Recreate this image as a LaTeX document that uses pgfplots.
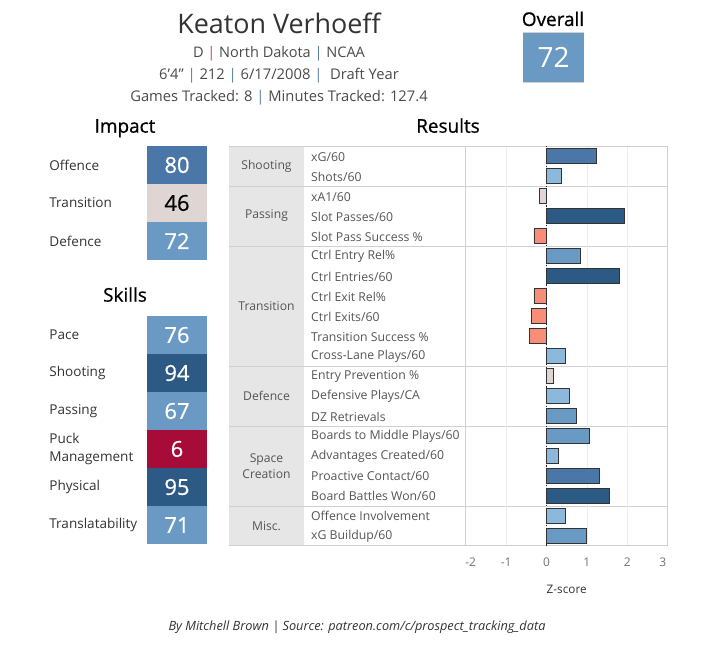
\documentclass[border=0pt]{standalone}
\usepackage{pgfplots}
\pgfplotsset{compat=1.18}
\usepackage{fontspec}
\setmainfont{Open Sans}
\newfontfamily\headfont[FakeBold=0.7]{Open Sans}

\definecolor{tdark}{HTML}{2C5A85}
\definecolor{tmdark}{HTML}{4A76A8}
\definecolor{tmed}{HTML}{6A9AC4}
\definecolor{tlight}{HTML}{8DB8DC}
\definecolor{tneutral}{HTML}{DFD6D3}
\definecolor{tsalmon}{HTML}{F88E78}
\definecolor{tred}{HTML}{A60C37}
\definecolor{cellgrey}{HTML}{E6E6E6}
\definecolor{rulec}{HTML}{D0D0D0}
\definecolor{gridc}{HTML}{ECECEC}
\definecolor{txt}{HTML}{555555}
\definecolor{stxt}{HTML}{4A4A4A}
\definecolor{dtxt}{HTML}{333333}
\definecolor{barline}{HTML}{333333}
\definecolor{pipeblue}{HTML}{5A7FA8}
\definecolor{pipered}{HTML}{D0463E}

\pgfplotsset{
  tiles/.style={
    scale only axis, hide axis, clip=false,
    xmin=0, xmax=1, y dir=reverse,
    xbar, bar shift=0pt, bar width=1,
  },
}
\tikzset{
  tilenum/.style={font=\headfont\fontsize{22}{24}\selectfont},
  rowlab/.style={anchor=west, text=dtxt, font=\fontsize{13.6}{19}\selectfont, align=left, inner sep=0pt},
  sechead/.style={anchor=base, font=\headfont\fontsize{19}{22}\selectfont},
}

\begin{document}
\begin{tikzpicture}
\useasboundingbox (0bp,0bp) rectangle (709bp,650bp);

% layout helpers: x to the right, y downward from the top edge, in bp
\begin{scope}[x=1bp, y=-1bp, shift={(0bp,650bp)}]
  % header
  \node[anchor=base, text=dtxt, font=\fontsize{27}{30}\selectfont] at (279,33.3) {Keaton Verhoeff};
  \node[anchor=base, text=stxt, font=\fontsize{14.6}{17}\selectfont] at (279,57.3)
    {D {\color{pipered}|} North Dakota {\color{pipeblue}|} NCAA};
  \node[anchor=base, text=stxt, font=\fontsize{14.8}{17}\selectfont] at (279,80)
    {6’4” {\color{pipeblue}|} 212 {\color{pipeblue}|} 6/17/2008 {\color{pipeblue}|}\ \ Draft Year};
  \node[anchor=base, text=stxt, font=\fontsize{14.8}{17}\selectfont] at (279,101.7)
    {Games Tracked: 8 {\color{pipeblue}|} Minutes Tracked: 127.4};
  \node[sechead] at (553,26) {Overall};
  \draw[rulec, line width=0.8bp] (523,32.7) -- (584,32.7);
  \draw[rulec, line width=0.8bp] (523,82.3) -- (584,82.3);

  % section titles
  \node[sechead] at (125,132.7) {Impact};
  \node[sechead] at (125,301.7) {Skills};
  \node[sechead] at (448,132.7) {Results};

  % results table: group cells and rules
  \fill[cellgrey] (229,146) rectangle (304,545.5);
  \foreach \yy in {186,246,366,426,506}
    \draw[rulec, line width=0.9bp] (229,\yy) -- (667.7,\yy);
  \draw[rulec, line width=0.9bp] (229,146) -- (667.7,146);
  \draw[rulec, line width=0.9bp] (229,545.5) -- (667.7,545.5);
  \begin{scope}[every node/.style={text=txt, font=\fontsize{12.2}{16}\selectfont, align=center}]
    \node at (266.5,166) {Shooting};
    \node at (266.5,216) {Passing};
    \node at (266.5,306) {Transition};
    \node at (266.5,396) {Defence};
    \node at (266.5,466) {Space\\Creation};
    \node at (266.5,526) {Misc.};
  \end{scope}

  % footer
  \node[anchor=base, text=dtxt, font=\fontsize{12.8}{15}\selectfont\itshape] at (357,631)
    {By Mitchell Brown | Source: patreon.com/c/prospect\_tracking\_data};
\end{scope}

% overall rating tile
\begin{axis}[tiles, at={(523bp,617.3bp)}, anchor=north west,
  width=61bp, height=49.6bp, ymin=0.5, ymax=1.5]
  \addplot[fill=tmed, draw=none] coordinates {(1,1)};
  \node[text=white, font=\fontsize{28}{30}\selectfont] at (axis cs:0.5,1) {72};
\end{axis}

% impact tiles
\begin{axis}[tiles, at={(147bp,504bp)}, anchor=north west,
  width=60bp, height=114bp, ymin=0.5, ymax=3.5]
  \addplot[fill=tmdark, draw=none] coordinates {(1,1)};
  \addplot[fill=tneutral, draw=none] coordinates {(1,2)};
  \addplot[fill=tmed, draw=none] coordinates {(1,3)};
  \node[tilenum, text=white] at (axis cs:0.5,1) {80};
  \node[tilenum, text=black] at (axis cs:0.5,2) {46};
  \node[tilenum, text=white] at (axis cs:0.5,3) {72};
  \node[rowlab] at (axis cs:-1.63,1) {Offence};
  \node[rowlab] at (axis cs:-1.63,2) {Transition};
  \node[rowlab] at (axis cs:-1.63,3) {Defence};
\end{axis}

% skills tiles
\begin{axis}[tiles, at={(147bp,334bp)}, anchor=north west,
  width=60bp, height=228bp, ymin=0.5, ymax=6.5]
  \addplot[fill=tmed, draw=none] coordinates {(1,1)};
  \addplot[fill=tdark, draw=none] coordinates {(1,2)};
  \addplot[fill=tmed, draw=none] coordinates {(1,3)};
  \addplot[fill=tred, draw=none] coordinates {(1,4)};
  \addplot[fill=tdark, draw=none] coordinates {(1,5)};
  \addplot[fill=tmed, draw=none] coordinates {(1,6)};
  \node[tilenum, text=white] at (axis cs:0.5,1) {76};
  \node[tilenum, text=white] at (axis cs:0.5,2) {94};
  \node[tilenum, text=white] at (axis cs:0.5,3) {67};
  \node[tilenum, text=white] at (axis cs:0.5,4) {6};
  \node[tilenum, text=white] at (axis cs:0.5,5) {95};
  \node[tilenum, text=white] at (axis cs:0.5,6) {71};
  \node[rowlab] at (axis cs:-1.63,1) {Pace};
  \node[rowlab] at (axis cs:-1.63,2) {Shooting};
  \node[rowlab] at (axis cs:-1.63,3) {Passing};
  \node[rowlab] at (axis cs:-1.63,4) {Puck\\Management};
  \node[rowlab] at (axis cs:-1.63,5) {Physical};
  \node[rowlab] at (axis cs:-1.63,6) {Translatability};
\end{axis}

% results: z-scores per metric
\begin{axis}[
  at={(465.7bp,504bp)}, anchor=north west,
  scale only axis, width=202bp, height=399.5bp,
  xmin=-2, xmax=3, ymin=0.5, ymax=20.5, y dir=reverse,
  xbar, bar shift=0pt, bar width=0.75,
  clip=false,
  axis line style={draw=rulec, line width=0.9bp},
  xmajorgrids, major grid style={draw=gridc, line width=0.8bp},
  major tick length=0pt,
  xtick={-2,-1,0,1,2,3},
  xticklabels={\hspace*{10bp}-2,-1,0,1,2,3\hspace*{10bp}},
  xticklabel style={anchor=center, yshift=-16.5bp, text=black!55, font=\fontsize{12}{14}\selectfont},
  ytick={1,...,20},
  yticklabels={{xG/60},{Shots/60},{xA1/60},{Slot Passes/60},{Slot Pass Success \%},
    {Ctrl Entry Rel\%},{Ctrl Entries/60},{Ctrl Exit Rel\%},{Ctrl Exits/60},
    {Transition Success \%},{Cross-Lane Plays/60},{Entry Prevention \%},
    {Defensive Plays/CA},{DZ Retrievals},{Boards to Middle Plays/60},
    {Advantages Created/60},{Proactive Contact/60},{Board Battles Won/60},
    {Offence Involvement},{xG Buildup/60}},
  yticklabel style={anchor=west, inner sep=0pt, xshift=-154.7bp, yshift=-0.8bp, text=txt, font=\fontsize{12.3}{14}\selectfont},
]
  \draw[black!85, dotted, line width=1.3bp] (axis cs:0,0.5) -- (axis cs:0,20.5);
  % strongest positive
  \addplot[fill=tdark, draw=barline, line width=0.9bp] coordinates {(1.92,4) (1.80,7) (1.57,18)};
  \addplot[fill=tmdark, draw=barline, line width=0.9bp] coordinates {(1.23,1) (1.30,17)};
  \addplot[fill=tmed, draw=barline, line width=0.9bp] coordinates {(0.85,6) (0.75,14) (1.07,15) (1.00,20)};
  \addplot[fill=tlight, draw=barline, line width=0.9bp] coordinates {(0.38,2) (0.46,11) (0.58,13) (0.29,16) (0.46,19)};
  % near average
  \addplot[fill=tneutral, draw=barline, line width=0.9bp] coordinates {(-0.165,3) (0.16,12)};
  % below average
  \addplot[fill=tsalmon, draw=barline, line width=0.9bp] coordinates {(-0.31,5) (-0.31,8) (-0.38,9) (-0.41,10)};
  \node[text=dtxt, font=\fontsize{11.8}{13}\selectfont] at (axis description cs:0.5,0) [yshift=-44bp] {Z-score};
\end{axis}
\end{tikzpicture}
\end{document}
